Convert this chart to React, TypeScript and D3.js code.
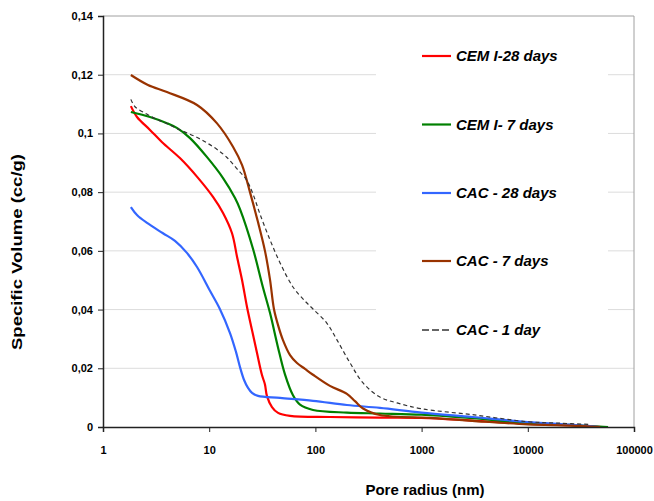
import React, { useEffect, useRef } from 'react';
import * as d3 from 'd3';

// pore radius (nm) / cumulative specific volume (cc/g)
const cem28: [number, number][] = [
  [1.83, 0.1093], [2.09, 0.1056], [2.77, 0.1012], [3.6, 0.097], [5.3, 0.0916], [7.7, 0.0852],
  [10.9, 0.0783], [13.5, 0.0729], [16.4, 0.066], [18.3, 0.0579], [20.4, 0.05],
  [22.7, 0.0409], [25.3, 0.033], [28.2, 0.0252], [31.4, 0.0177], [33.5, 0.0145], [35, 0.0105],
  [39, 0.0068], [44.5, 0.0048], [57.7, 0.0038], [137, 0.0034], [400, 0.0032], [1000, 0.0031],
  [3000, 0.0022], [10000, 0.0011], [25000, 0.0006], [50000, 0],
];
const cem7: [number, number][] = [
  [1.83, 0.1073], [2.77, 0.1056], [4.0, 0.1035], [5.0, 0.1018], [6.6, 0.0984], [9.5, 0.092],
  [13.5, 0.0848], [17.5, 0.078], [19.5, 0.0742], [25.8, 0.0608], [32, 0.0477], [37.4, 0.0388],
  [44.4, 0.0272], [51.6, 0.018], [61.5, 0.0108], [71.6, 0.0076], [95, 0.0058], [198, 0.0049],
  [405, 0.0046], [1000, 0.0042], [3000, 0.003], [10000, 0.0014], [25000, 0.0007], [57000, 0],
];
const cac28: [number, number][] = [
  [1.83, 0.0749], [2.09, 0.0722], [2.6, 0.0695], [3.67, 0.066], [4.76, 0.0634], [6.17, 0.0593],
  [7.68, 0.0545], [10.2, 0.0463], [12.6, 0.0402], [15.7, 0.032], [17.9, 0.0255],
  [19.5, 0.0204], [21.3, 0.016], [23.2, 0.0133], [25.3, 0.0116], [28.8, 0.0106], [46.5, 0.0099],
  [95, 0.0089], [198, 0.0075], [405, 0.0065], [1000, 0.0049], [3000, 0.0034], [10000, 0.0017],
  [25000, 0.0008], [47000, 0],
];
const cac7: [number, number][] = [
  [1.83, 0.1199], [2.65, 0.1165], [4.0, 0.1141], [7.68, 0.1097], [11.8, 0.1035], [16.8, 0.0954],
  [20.4, 0.0892], [24.2, 0.08], [28.8, 0.0698], [33.5, 0.06], [37.4, 0.0501], [40.7, 0.0402],
  [44.5, 0.0347], [49.5, 0.0296], [57.7, 0.0245], [67.1, 0.0218], [79.8, 0.0198], [94.9, 0.0178],
  [137, 0.014], [198, 0.0113], [236, 0.0088], [281, 0.0063], [405, 0.0041], [1200, 0.0031],
  [3000, 0.0021], [10000, 0.0009], [25000, 0.0005], [48000, 0],
];
const cac1: [number, number][] = [
  [1.83, 0.1116], [2.0, 0.1091], [2.58, 0.1066], [3.2, 0.1048], [3.98, 0.1034], [4.94, 0.1017],
  [6.15, 0.1002], [7.63, 0.0987], [9.48, 0.0968], [11.8, 0.0946], [14.6, 0.0919], [18.1, 0.0881],
  [22.5, 0.0841], [25.8, 0.0794], [30.1, 0.0725], [37.4, 0.0637], [46.5, 0.0559], [61.5, 0.0477],
  [79.8, 0.0429], [94.9, 0.0402], [128, 0.0354], [160, 0.0296], [212, 0.0218], [281, 0.015],
  [405, 0.0102], [587, 0.0082], [1000, 0.0062], [3000, 0.0042], [10000, 0.0018], [20000, 0.0013],
  [37000, 0.0009],
];

const seriesNames = ['CEM I-28 days', 'CEM I- 7 days', 'CAC - 28 days', 'CAC - 7 days', 'CAC - 1 day'];
const seriesData = [cem28, cem7, cac28, cac7, cac1];
const seriesColors = ['#ff0000', '#008000', '#3366ff', '#993300', '#333333'];

const xTicks = [1, 10, 100, 1000, 10000, 100000];
const yTicks = [0, 0.02, 0.04, 0.06, 0.08, 0.1, 0.12, 0.14];
const yTickLabels = ['0', '0,02', '0,04', '0,06', '0,08', '0,1', '0,12', '0,14'];

const App = () => {
  const ref = useRef<SVGSVGElement>(null);

  useEffect(() => {
    document.body.style.margin = '0';
    const svg = d3.select(ref.current);
    svg.selectAll('*').remove();

    const left = 103, right = 634, top = 16, bottom = 427;
    const font = 'Arial, "Liberation Sans", sans-serif';

    const x = d3.scaleLog().domain([1, 100000]).range([left, right]);
    const y = d3.scaleLinear().domain([0, 0.14]).range([bottom, top]);

    // gridlines
    svg.append('g').selectAll('line')
      .data(yTicks.slice(1, -1))
      .join('line')
      .attr('x1', left).attr('x2', right)
      .attr('y1', d => y(d)).attr('y2', d => y(d))
      .attr('stroke', '#dcdcdc').attr('stroke-width', 1);

    // plot border (top/right)
    svg.append('path')
      .attr('d', `M${left},${top}H${right}V${bottom}`)
      .attr('fill', 'none').attr('stroke', '#a0a0a0').attr('stroke-width', 1);

    // legend background
    svg.append('rect')
      .attr('x', 376).attr('y', 24).attr('width', 232).attr('height', 330)
      .attr('fill', '#fff');

    const line = d3.line<[number, number]>()
      .x(d => x(d[0])).y(d => y(d[1]))
      .curve(d3.curveCatmullRom.alpha(0.5));

    seriesData.forEach((data, i) => {
      svg.append('path')
        .datum(data)
        .attr('d', line)
        .attr('fill', 'none')
        .attr('stroke', seriesColors[i])
        .attr('stroke-width', i === 4 ? 1.2 : 2.2)
        .attr('stroke-dasharray', i === 4 ? '4,3' : null)
        .attr('stroke-linejoin', 'round');
    });

    // y axis
    const yAxis = svg.append('g')
      .attr('transform', `translate(${left},0)`)
      .call(d3.axisLeft(y).tickValues(yTicks).tickSize(5).tickFormat((_, i) => yTickLabels[i]));
    yAxis.select('.domain').attr('stroke', '#222').attr('stroke-width', 1.5);
    yAxis.selectAll('.tick line').attr('stroke', '#222');
    yAxis.selectAll('text')
      .attr('font-family', font).attr('font-size', 11).attr('font-weight', 'bold')
      .attr('fill', '#000').attr('x', -10);

    // x axis
    const xAxis = svg.append('g')
      .attr('transform', `translate(0,${bottom})`)
      .call(d3.axisBottom(x).tickValues(xTicks).tickSize(5).tickFormat(d3.format('d')));
    xAxis.select('.domain').attr('stroke', '#222').attr('stroke-width', 1.5);
    xAxis.selectAll('.tick line').attr('stroke', '#222');
    xAxis.selectAll('text')
      .attr('font-family', font).attr('font-size', 11).attr('font-weight', 'bold')
      .attr('fill', '#000').attr('y', 19);

    // axis titles
    svg.append('text')
      .attr('x', 425).attr('y', 495)
      .attr('text-anchor', 'middle')
      .attr('font-family', font).attr('font-size', 15).attr('font-weight', 'bold')
      .text('Pore radius (nm)');

    svg.append('text')
      .attr('transform', 'translate(22,252) rotate(-90)')
      .attr('text-anchor', 'middle')
      .attr('font-family', font).attr('font-size', 15).attr('font-weight', 'bold')
      .attr('textLength', 196).attr('lengthAdjust', 'spacingAndGlyphs')
      .text('Specific Volume (cc/g)');

    // legend
    const legendY = [56, 124.5, 193, 261, 330];
    const lg = svg.append('g');
    seriesNames.forEach((name, i) => {
      lg.append('line')
        .attr('x1', 422).attr('x2', 451)
        .attr('y1', legendY[i]).attr('y2', legendY[i])
        .attr('stroke', seriesColors[i])
        .attr('stroke-width', i === 4 ? 1.5 : 2.2)
        .attr('stroke-dasharray', i === 4 ? '7,3' : null);
      lg.append('text')
        .attr('x', 456).attr('y', legendY[i])
        .attr('dy', '0.36em')
        .attr('font-family', font).attr('font-size', 15)
        .attr('font-weight', 'bold').attr('font-style', 'italic')
        .text(name);
    });
  }, []);

  return <svg ref={ref} width={654} height={501} style={{ display: 'block' }} />;
};

export default App;
